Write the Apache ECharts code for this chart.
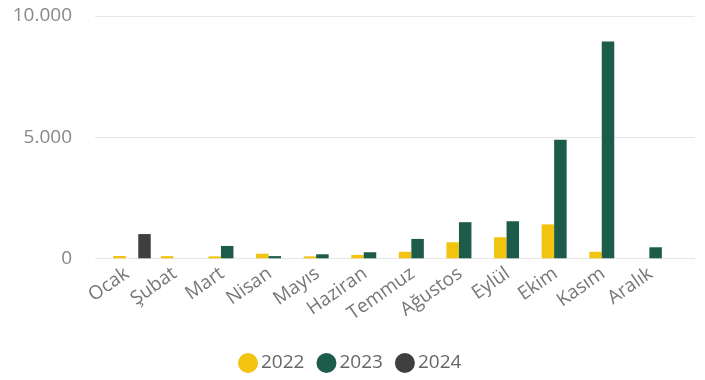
<!DOCTYPE html>
<html>
<head>
<meta charset="utf-8">
<script src="https://cdn.jsdelivr.net/npm/echarts@6/dist/echarts.min.js"></script>
<style>
html,body{margin:0;padding:0;background:#fff;}
#c{width:705px;height:380px;}
</style>
</head>
<body>
<div id="c"></div>
<script>
var categories = ['Ocak','Şubat','Mart','Nisan','Mayıs','Haziran','Temmuz','Ağustos','Eylül','Ekim','Kasım','Aralık'];
var seriesNames = ['2022','2023','2024'];
var values2022 = [95, 90, 80, 190, 80, 140, 270, 660, 870, 1400, 270, null];
var values2023 = [null, null, 510, 90, 165, 250, 800, 1490, 1530, 4890, 8950, 455];
var values2024 = [1000, null, null, null, null, null, null, null, null, null, null, null];
var yTicks = [0, 5000, 10000];

var colors = ['#F2C40F', '#1D5B4B', '#3F3F3F'];
var font = '"Segoe UI", "Open Sans", sans-serif';

var chart = echarts.init(document.getElementById('c'), null, {renderer: 'canvas'});
function fmt(v){ return String(v).replace(/\B(?=(\d{3})+(?!\d))/g, '.'); }

var data = [values2022, values2023, values2024];
var series = seriesNames.map(function(n, i){
  return {
    name: n, type: 'bar', xAxisIndex: 1, yAxisIndex: 1,
    data: data[i], barWidth: 12.5, barGap: '0%',
    itemStyle: {color: colors[i]}
  };
});

chart.setOption({
  animation: false,
  color: colors,
  legend: {
    data: seriesNames, bottom: 2, left: 233,
    icon: 'circle', itemWidth: 20, itemHeight: 20, itemGap: 12,
    textStyle: {color: '#666', fontSize: 19, fontFamily: font, padding: [0,0,0,-2]}
  },
  grid: [
    {left: 95, right: 10, top: 16, bottom: 121.7},
    {left: 108.2, right: 25.6, top: 16, bottom: 121.7}
  ],
  xAxis: [
    {type: 'value', gridIndex: 0, show: false, min: 0, max: 1},
    {type: 'category', gridIndex: 1, data: categories,
     axisLine: {show: false}, axisTick: {show: false},
     axisLabel: {rotate: 35, margin: 10, color: '#777', fontSize: 19, fontFamily: font, interval: 0, padding: [0, 6, 0, 0]}}
  ],
  yAxis: [
    {type: 'value', gridIndex: 0, min: yTicks[0], max: yTicks[yTicks.length-1], interval: yTicks[1]-yTicks[0],
     axisLine: {show: false}, axisTick: {show: false},
     axisLabel: {margin: 23, color: '#888', fontSize: 19, fontFamily: font, formatter: fmt},
     splitLine: {lineStyle: {color: '#e6e6e6', width: 1}}},
    {type: 'value', gridIndex: 1, min: yTicks[0], max: yTicks[yTicks.length-1], show: false, splitLine: {show: false}}
  ],
  series: series
});
</script>
</body>
</html>
